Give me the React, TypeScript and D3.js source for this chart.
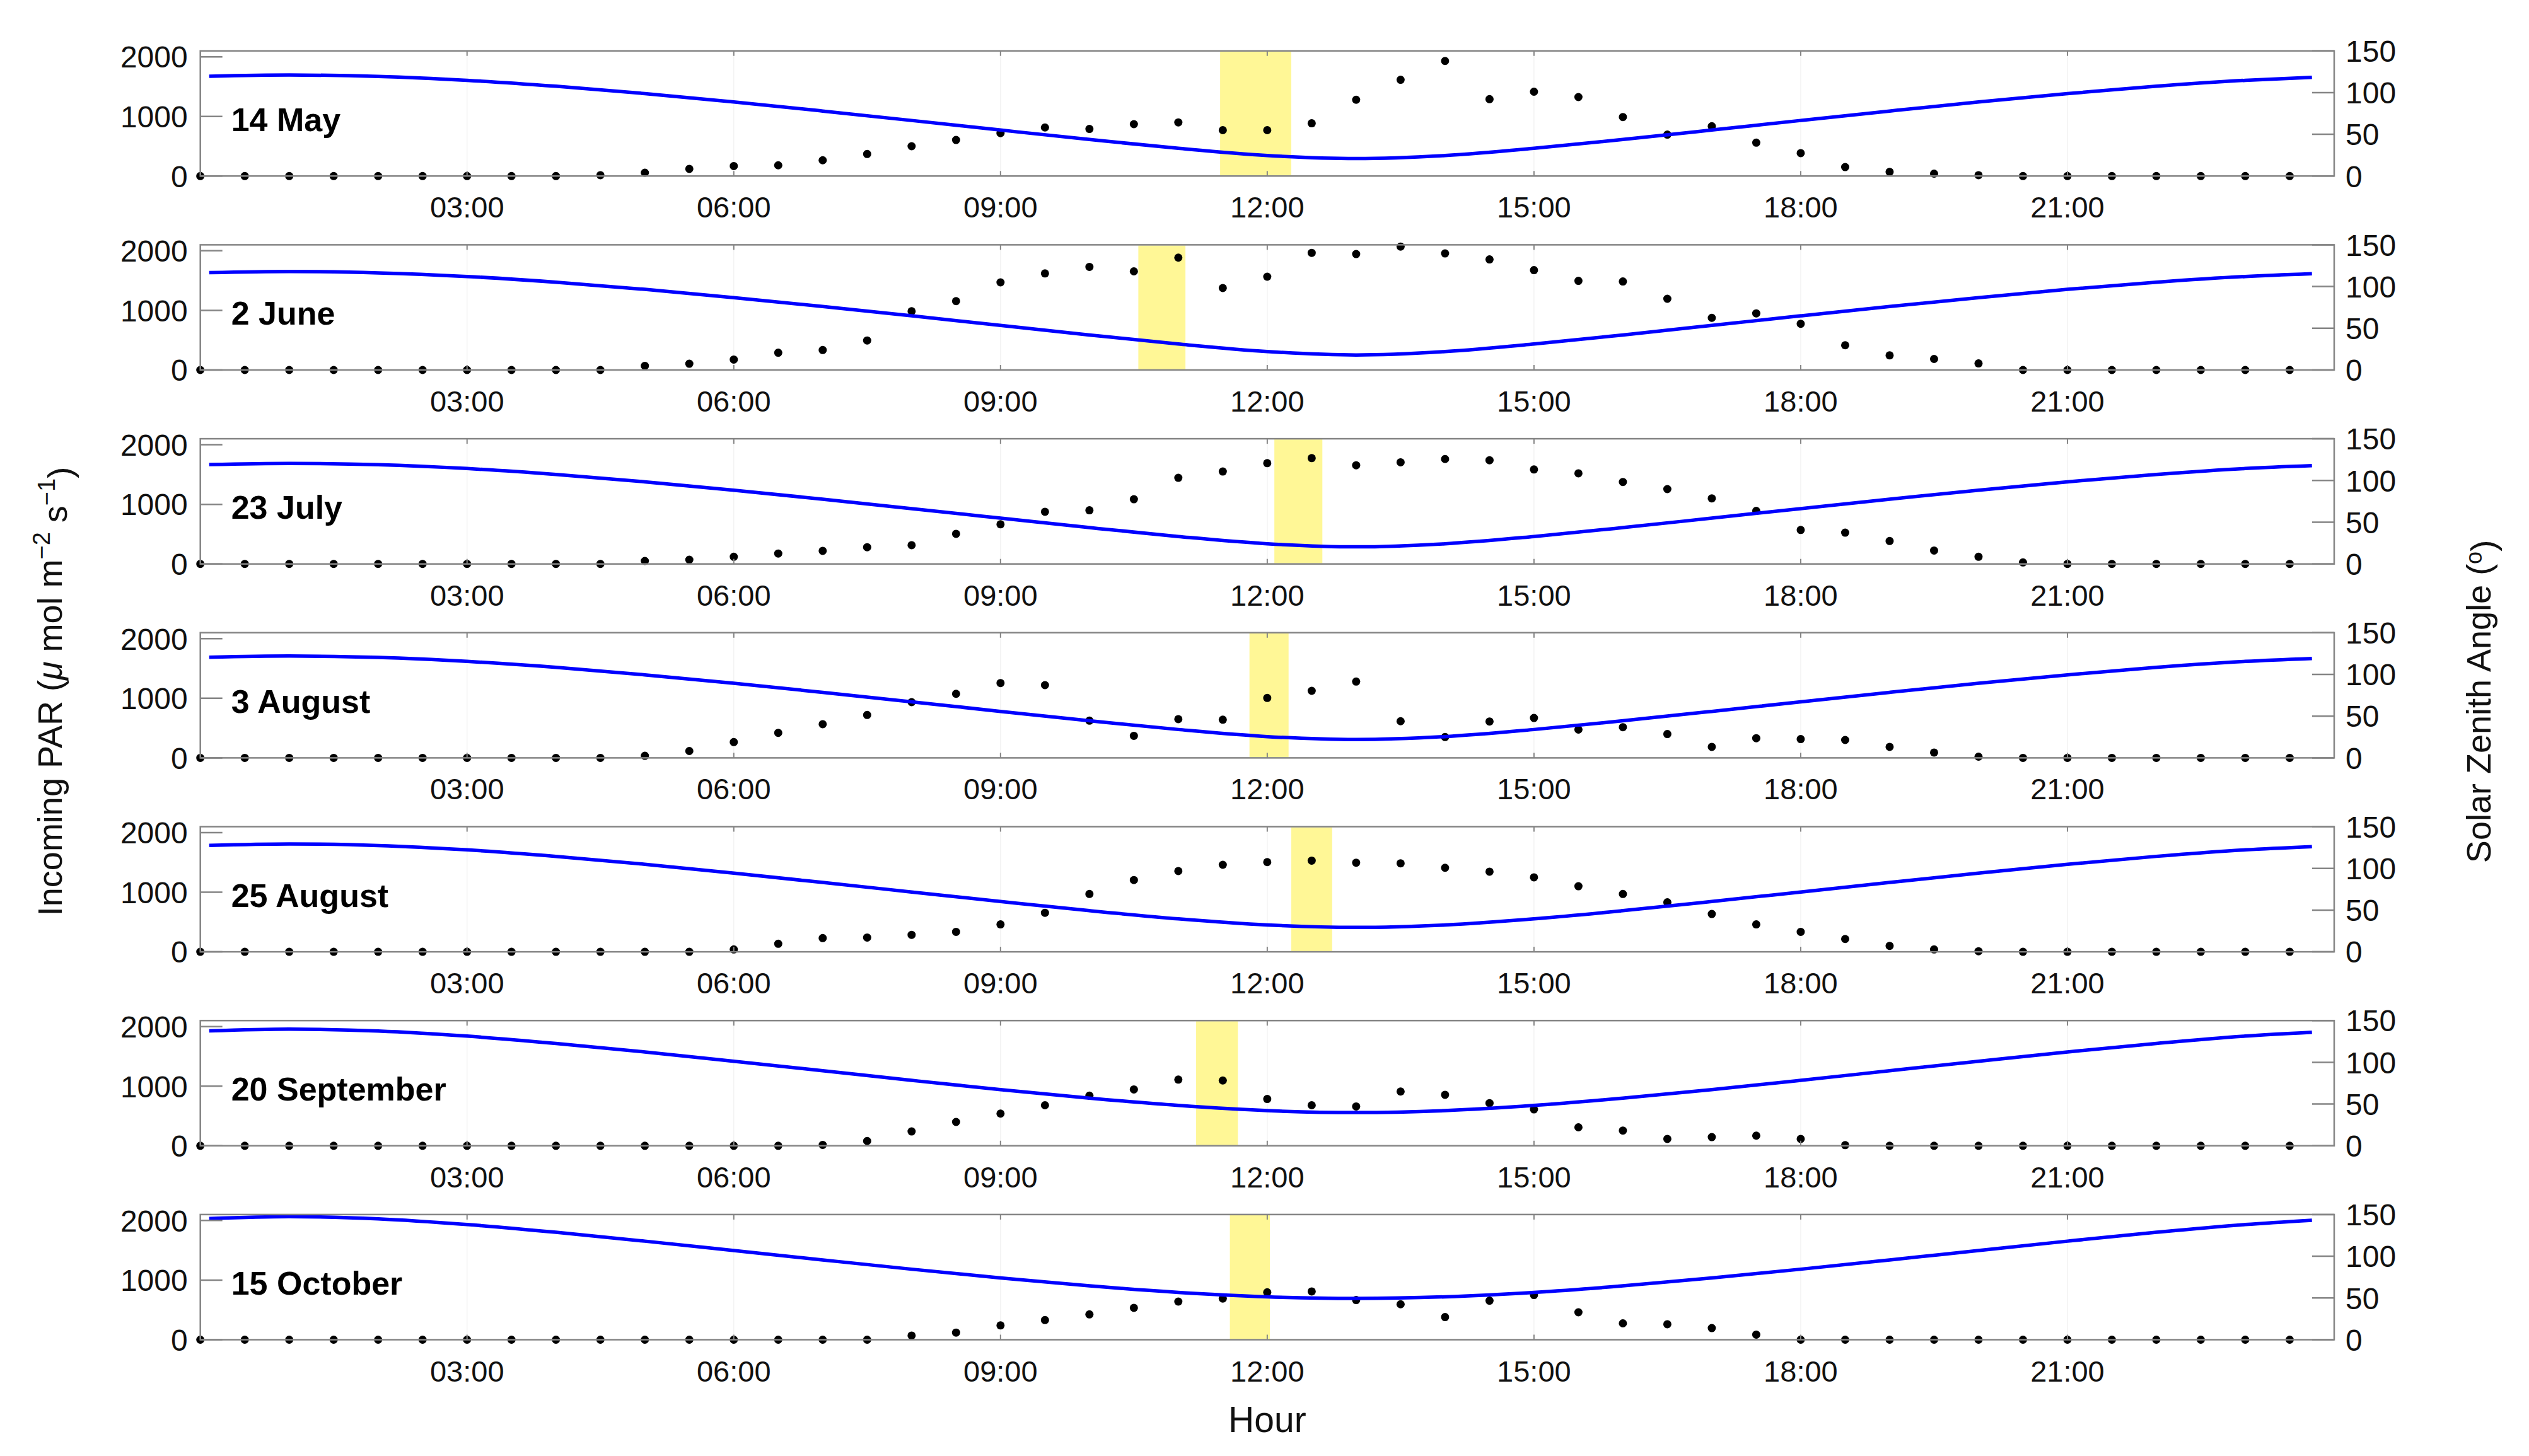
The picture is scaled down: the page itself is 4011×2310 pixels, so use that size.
import * as d3 from "d3";

// ---- data ----
const panelNames = ["14 May", "2 June", "23 July", "3 August", "25 August", "20 September", "15 October"];

// half-hourly PAR samples, 00:00 .. 23:30
const parTimes = d3.range(0, 24, 0.5);

const parMay14 = [0, 0, 0, 0, 0, 0, 0, 0, 0, 15, 55, 120, 168, 180, 265, 370, 500, 605, 720, 815, 790, 870, 900, 770, 770, 885, 1280, 1615, 1930, 1290, 1415, 1325, 990, 695, 835, 560, 385, 150, 70, 40, 15, 0, 0, 0, 0, 0, 0, 0];
const parJun2 = [0, 0, 0, 0, 0, 0, 0, 0, 0, 0, 70, 105, 175, 290, 335, 495, 985, 1155, 1470, 1620, 1730, 1655, 1885, 1375, 1565, 1965, 1945, 2070, 1955, 1855, 1675, 1495, 1485, 1195, 875, 950, 775, 415, 245, 185, 110, 0, 0, 0, 0, 0, 0, 0];
const parJul23 = [0, 0, 0, 0, 0, 0, 0, 0, 0, 0, 50, 70, 120, 175, 220, 280, 315, 505, 665, 875, 900, 1085, 1445, 1550, 1690, 1775, 1655, 1705, 1760, 1740, 1585, 1520, 1375, 1255, 1100, 890, 570, 525, 385, 225, 120, 25, 0, 0, 0, 0, 0, 0];
const parAug3 = [0, 0, 0, 0, 0, 0, 0, 0, 0, 0, 35, 115, 265, 420, 565, 720, 935, 1075, 1255, 1220, 625, 370, 650, 640, 1005, 1125, 1280, 615, 350, 610, 670, 475, 515, 400, 185, 330, 315, 300, 185, 90, 20, 0, 0, 0, 0, 0, 0, 0];
const parAug25 = [0, 0, 0, 0, 0, 0, 0, 0, 0, 0, 0, 0, 40, 135, 230, 240, 285, 335, 460, 655, 970, 1205, 1355, 1460, 1505, 1530, 1495, 1485, 1410, 1345, 1250, 1100, 970, 830, 635, 460, 335, 215, 100, 40, 10, 0, 0, 0, 0, 0, 0, 0];
const parSep20 = [0, 0, 0, 0, 0, 0, 0, 0, 0, 0, 0, 0, 0, 0, 15, 80, 240, 400, 540, 680, 840, 945, 1110, 1095, 785, 680, 660, 910, 855, 715, 610, 310, 255, 115, 145, 170, 115, 10, 0, 0, 0, 0, 0, 0, 0, 0, 0, 0];
const parOct15 = [0, 0, 0, 0, 0, 0, 0, 0, 0, 0, 0, 0, 0, 0, 0, 0, 70, 120, 240, 330, 425, 535, 640, 690, 795, 810, 665, 595, 380, 655, 750, 460, 275, 260, 195, 85, 0, 0, 0, 0, 0, 0, 0, 0, 0, 0, 0, 0];

// solar zenith angle (deg) read at these hours
const szaHours = [0.1, 1, 2, 3, 4, 5, 6, 7, 8, 9, 10, 11, 12, 13, 14, 15, 16, 17, 18, 19, 20, 21, 22, 23, 23.75];

const szaMay14 = [119.6, 121.0, 119.4, 114.7, 107.6, 98.8, 88.8, 77.9, 66.6, 55.1, 43.8, 33.2, 24.6, 21.0, 24.6, 33.2, 43.8, 55.1, 66.6, 77.9, 88.8, 98.8, 107.6, 114.7, 118.3];
const szaJun2 = [116.6, 118.0, 116.4, 112.0, 105.2, 96.6, 86.7, 76.1, 64.9, 53.4, 42.0, 31.1, 22.1, 18.0, 22.1, 31.1, 42.0, 53.4, 64.9, 76.1, 86.7, 96.6, 105.2, 112.0, 115.3];
const szaJul23 = [119.1, 120.5, 118.9, 114.3, 107.2, 98.4, 88.4, 77.6, 66.3, 54.9, 43.5, 32.9, 24.2, 20.5, 24.2, 32.9, 43.5, 54.9, 66.3, 77.6, 88.4, 98.4, 107.2, 114.3, 117.7];
const szaAug3 = [120.5, 122.0, 120.3, 115.6, 108.5, 99.5, 89.4, 78.5, 67.2, 55.7, 44.5, 34.0, 25.5, 22.0, 25.5, 34.0, 44.5, 55.7, 67.2, 78.5, 89.4, 99.5, 108.5, 115.6, 119.1];
const szaAug25 = [127.6, 129.3, 127.4, 122.2, 114.4, 104.9, 94.3, 83.1, 71.7, 60.3, 49.3, 39.5, 32.2, 29.3, 32.2, 39.5, 49.3, 60.3, 71.7, 83.1, 94.3, 104.9, 114.4, 122.2, 126.1];
const szaSep20 = [137.7, 139.8, 137.5, 131.4, 122.6, 112.4, 101.3, 89.9, 78.4, 67.3, 57.1, 48.3, 42.1, 39.8, 42.1, 48.3, 57.1, 67.3, 78.4, 89.9, 101.3, 112.4, 122.6, 131.4, 136.0];
const szaOct15 = [145.2, 147.5, 144.9, 138.0, 128.7, 118.1, 106.9, 95.6, 84.5, 74.0, 64.5, 56.7, 51.4, 49.5, 51.4, 56.7, 64.5, 74.0, 84.5, 95.6, 106.9, 118.1, 128.7, 138.0, 143.2];

// highlighted sampling window per day [start, end] in hours
const bandMay14 = [11.47, 12.27];
const bandJun2 = [10.55, 11.08];
const bandJul23 = [12.08, 12.62];
const bandAug3 = [11.8, 12.24];
const bandAug25 = [12.27, 12.73];
const bandSep20 = [11.2, 11.67];
const bandOct15 = [11.58, 12.03];

const xTicks = [3, 6, 9, 12, 15, 18, 21];
const xTickLabels = ["03:00", "06:00", "09:00", "12:00", "15:00", "18:00", "21:00"];
const parTicks = [0, 1000, 2000];
const szaTicks = [0, 50, 100, 150];

const parList = [parMay14, parJun2, parJul23, parAug3, parAug25, parSep20, parOct15];
const szaList = [szaMay14, szaJun2, szaJul23, szaAug3, szaAug25, szaSep20, szaOct15];
const bandList = [bandMay14, bandJun2, bandJul23, bandAug3, bandAug25, bandSep20, bandOct15];

// ---- layout ----
const W = 4011;
const H = 2310;
const left = 317.7;
const right = 3702;
const top0 = 80.7;
const pitch = 307.7;
const ph = 198.6;
const axisGray = "#858585";
const font = "'Liberation Sans', Arial, Helvetica, sans-serif";

export default function App() {
	const x = d3.scaleLinear().domain([0, 24]).range([left, right]);

	return (
		<svg
			width={W}
			height={H}
			style={{ position: "absolute", left: 0, top: 0, background: "#fff" }}
			fontFamily={font}
		>
			<rect x={0} y={0} width={W} height={H} fill="#fff" />
			{panelNames.map((name, i) => {
				const top = top0 + i * pitch;
				const yL = d3.scaleLinear().domain([0, 2100]).range([top + ph, top]);
				const yR = d3.scaleLinear().domain([0, 150]).range([top + ph, top]);
				const line = d3
					.line<number>()
					.x((_, k) => x(szaHours[k]))
					.y((d) => yR(d))
					.curve(d3.curveMonotoneX);
				const band = bandList[i];
				return (
					<g key={name}>
						{/* very faint x grid */}
						{xTicks.map((t) => (
							<line key={t} x1={x(t)} x2={x(t)} y1={top} y2={top + ph} stroke="#f3f3f3" strokeWidth={1.5} />
						))}
						<rect
							x={x(band[0])}
							y={top + 1}
							width={x(band[1]) - x(band[0])}
							height={ph - 2}
							fill="#fff796"
						/>
						{parList[i].map((v, k) => (
							<circle key={k} cx={x(parTimes[k])} cy={yL(v)} r={6.5} fill="#000" />
						))}
						<path d={line(szaList[i]) ?? ""} fill="none" stroke="#0000ff" strokeWidth={5.5} />

						{/* box */}
						<rect x={left} y={top} width={right - left} height={ph} fill="none" stroke={axisGray} strokeWidth={2.5} />

						{/* left axis */}
						{parTicks.map((t) => (
							<g key={t}>
								<line x1={left} x2={left + 35} y1={yL(t)} y2={yL(t)} stroke={axisGray} strokeWidth={2.5} />
								<text x={left - 20} y={yL(t)} dy="0.36em" textAnchor="end" fontSize={48} fill="#111">
									{t}
								</text>
							</g>
						))}
						{/* right axis */}
						{szaTicks.map((t) => (
							<g key={t}>
								<line x1={right - 35} x2={right} y1={yR(t)} y2={yR(t)} stroke={axisGray} strokeWidth={2.5} />
								<text x={right + 18} y={yR(t)} dy="0.36em" textAnchor="start" fontSize={48} fill="#111">
									{t}
								</text>
							</g>
						))}
						{/* x ticks */}
						{xTicks.map((t, k) => (
							<g key={t}>
								<line x1={x(t)} x2={x(t)} y1={top + ph} y2={top + ph - 8} stroke={axisGray} strokeWidth={2} />
								<line x1={x(t)} x2={x(t)} y1={top} y2={top + 8} stroke={axisGray} strokeWidth={2} />
								<text x={x(t)} y={top + ph + 66} textAnchor="middle" fontSize={47} fill="#111">
									{xTickLabels[k]}
								</text>
							</g>
						))}

						<text x={left + 49} y={top + 127} fontSize={52} fontWeight="bold" fill="#000">
							{name}
						</text>
					</g>
				);
			})}

			<text transform="translate(98,1097) rotate(-90)" textAnchor="middle" fontSize={54} fill="#111">
				Incoming PAR (<tspan fontStyle="italic">μ</tspan> mol m
				<tspan dy="-0.5em" fontSize={38}>−2</tspan>
				<tspan dy="0.5em"> s</tspan>
				<tspan dy="-0.5em" fontSize={38}>−1</tspan>
				<tspan dy="0.5em">)</tspan>
			</text>
			<text transform="translate(3950,1113) rotate(-90)" textAnchor="middle" fontSize={54} fill="#111">
				Solar Zenith Angle (<tspan dy="-0.4em" fontSize={36}>o</tspan>
				<tspan dy="0.4em">)</tspan>
			</text>
			<text x={(left + right) / 2} y={2272} textAnchor="middle" fontSize={57} fill="#111">
				Hour
			</text>
		</svg>
	);
}
